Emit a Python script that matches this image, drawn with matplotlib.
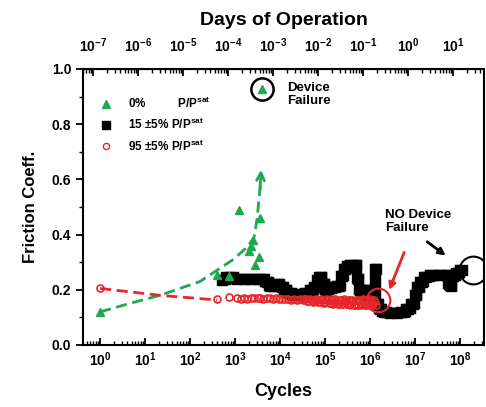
import numpy as np
import matplotlib
matplotlib.use('Agg')
from matplotlib import pyplot as plt
from matplotlib.lines import Line2D
from matplotlib.ticker import FixedLocator, LogLocator, NullFormatter

plt.rcParams['font.family'] = ['Liberation Sans', 'DejaVu Sans']
plt.rcParams['font.weight'] = 'bold'
plt.rcParams['mathtext.fontset'] = 'custom'
plt.rcParams['mathtext.rm'] = 'Liberation Sans:bold'
plt.rcParams['mathtext.bf'] = 'Liberation Sans:bold'
plt.rcParams['mathtext.default'] = 'bf'

GREEN = '#1fa84f'
RED = '#e8262a'

# 0% P/Psat (green triangles), x as log10(cycles)
dry_logx = [0.0, 2.6, 2.87, 3.09, 3.30, 3.35, 3.40, 3.44, 3.53, 3.56]
dry_y = [0.12, 0.254, 0.25, 0.49, 0.34, 0.36, 0.38, 0.29, 0.32, 0.46]
# dashed guide for the 0% data
dry_fit_logx = [0.0, 0.6, 1.33, 2.22, 2.96, 3.27, 3.42, 3.49, 3.56]
dry_fit_y = [0.12, 0.148, 0.18, 0.23, 0.31, 0.355, 0.39, 0.46, 0.58]
fail_logx = [3.6]
fail_y = [0.927]

# 15 +-5% P/Psat (black squares)
mid_logx = [2.70, 2.88, 3.05, 3.20, 3.35, 3.50, 3.60, 3.70, 3.78, 3.85, 3.95, 4.05,
            4.12, 4.20, 4.30, 4.42, 4.52, 4.60, 4.70, 4.78, 4.84, 4.90, 4.97, 5.03,
            5.12, 5.22, 5.30, 5.38, 5.44, 5.52, 5.60, 5.68, 5.74, 5.78, 5.86, 5.93,
            6.00, 6.08, 6.12, 6.16, 6.22, 6.30, 6.45, 6.60, 6.75, 6.85, 6.95, 7.02,
            7.08, 7.15, 7.25, 7.40, 7.55, 7.70, 7.76, 7.80, 7.85, 7.95, 8.05]
mid_y = [0.235, 0.245, 0.24, 0.24, 0.24, 0.24, 0.238, 0.23, 0.215, 0.215, 0.222, 0.21,
         0.20, 0.19, 0.18, 0.18, 0.185, 0.19, 0.20, 0.21, 0.235, 0.245, 0.22, 0.20,
         0.205, 0.21, 0.215, 0.25, 0.275, 0.285, 0.29, 0.29, 0.24, 0.20, 0.18, 0.175,
         0.20, 0.20, 0.275, 0.15, 0.13, 0.12, 0.115, 0.115, 0.12, 0.13, 0.15, 0.18,
         0.21, 0.23, 0.245, 0.255, 0.255, 0.255, 0.22, 0.215, 0.25, 0.26, 0.27]

# 95 +-5% P/Psat (red open circles)
wet_logx = [0.0, 2.60, 2.87, 3.05, 3.12, 3.20, 3.27, 3.35, 3.42, 3.50, 3.56, 3.63,
            3.70, 3.77, 3.84, 3.90, 3.97, 4.04, 4.10, 4.17, 4.24, 4.30, 4.37, 4.44,
            4.50, 4.54, 4.57, 4.60, 4.63, 4.66, 4.70, 4.73, 4.76, 4.79, 4.82, 4.85,
            4.88, 4.91, 4.94, 4.97, 5.00, 5.03, 5.05, 5.08, 5.10, 5.13, 5.15, 5.18,
            5.20, 5.23, 5.25, 5.28, 5.30, 5.33, 5.35, 5.38, 5.40, 5.43, 5.45, 5.48,
            5.50, 5.52, 5.54, 5.56, 5.58, 5.60, 5.62, 5.64, 5.66, 5.68, 5.70, 5.72,
            5.74, 5.76, 5.78, 5.80, 5.82, 5.84, 5.86, 5.88, 5.90, 5.92, 5.94, 5.96,
            5.98, 6.00, 6.02, 6.04, 6.06, 6.08, 6.10, 6.13]
wet_y = [0.205, 0.165, 0.175, 0.172, 0.168, 0.170, 0.167, 0.171, 0.169, 0.172, 0.170, 0.168,
         0.171, 0.169, 0.167, 0.170, 0.166, 0.168, 0.165, 0.167, 0.164, 0.166, 0.163, 0.166,
         0.162, 0.167, 0.165, 0.159, 0.160, 0.166, 0.164, 0.156, 0.158, 0.165, 0.163, 0.154,
         0.157, 0.165, 0.162, 0.153, 0.155, 0.166, 0.163, 0.152, 0.153, 0.165, 0.162, 0.150,
         0.152, 0.166, 0.161, 0.149, 0.150, 0.164, 0.162, 0.148, 0.150, 0.165, 0.160, 0.147,
         0.148, 0.163, 0.163, 0.146, 0.147, 0.164, 0.160, 0.145, 0.146, 0.163, 0.162, 0.145,
         0.145, 0.164, 0.160, 0.146, 0.148, 0.166, 0.163, 0.145, 0.146, 0.164, 0.158, 0.144,
         0.150, 0.165, 0.160, 0.146, 0.148, 0.162, 0.155, 0.145]
wet_fit_logx = [0.0, 1.33, 2.6]
wet_fit_y = [0.205, 0.18, 0.163]

cycle_ticks = [1e0, 1e1, 1e2, 1e3, 1e4, 1e5, 1e6, 1e7, 1e8]
day_ticks = [1e-7, 1e-6, 1e-5, 1e-4, 1e-3, 1e-2, 1e-1, 1e0, 1e1]

DAYS_PER_CYCLE = 10 ** -6.845

def c2d(c):
    return c * DAYS_PER_CYCLE

def d2c(d):
    return d / DAYS_PER_CYCLE

tc = lambda v: 10 ** np.array(v)

fig = plt.figure(figsize=(4.86, 4.07), dpi=100)
ax = fig.add_axes([83 / 486, 62 / 407, 401 / 486, 276 / 407])

# fits
ax.plot(tc(dry_fit_logx), dry_fit_y, '--', color=GREEN, lw=2, dashes=(4, 2))
ax.annotate('', xy=(10 ** 3.58, 0.645), xytext=(10 ** 3.55, 0.55),
            arrowprops=dict(arrowstyle='->', color=GREEN, lw=2, mutation_scale=14))
ax.plot(tc(wet_fit_logx), wet_fit_y, '--', color=RED, lw=2, dashes=(4, 2))

# data
ax.plot(tc(mid_logx), mid_y, '-', color='black', lw=7.5, drawstyle='steps-mid',
        solid_capstyle='butt', solid_joinstyle='miter')
ax.plot(tc(mid_logx), mid_y, 's', color='black', ms=7)
ax.plot(tc(wet_logx), wet_y, 'o', mfc='none', mec=RED, ms=5, mew=1.2)
ax.plot(tc(dry_logx), dry_y, '^', color=GREEN, ms=6, ls='none')

# device failure marker
ax.plot(tc(fail_logx), fail_y, '^', color=GREEN, ms=6)
ax.plot(tc(fail_logx), fail_y, 'o', mfc='none', mec='black', ms=16, mew=1.8)
ax.text(10 ** 4.16, 0.906, 'Device\nFailure', fontsize=9.5, fontweight='bold',
        ha='left', va='center', linespacing=1.1)

# no failure circles and arrows
ax.plot([10 ** 8.29], [0.272], 'o', mfc='none', mec='black', ms=20, mew=1.5)
ax.plot([10 ** 6.18], [0.163], 'o', mfc='none', mec=RED, ms=17, mew=1.5)
ax.text(10 ** 6.33, 0.446, 'NO Device\nFailure', fontsize=9.5, fontweight='bold',
        ha='left', va='center', linespacing=1.1)
ax.annotate('', xy=(10 ** 6.4, 0.19), xytext=(10 ** 6.78, 0.345),
            arrowprops=dict(arrowstyle='-|>', color=RED, lw=2, mutation_scale=10))
ax.annotate('', xy=(10 ** 7.73, 0.318), xytext=(10 ** 7.22, 0.38),
            arrowprops=dict(arrowstyle='-|>', color='black', lw=2, mutation_scale=10))

# legend
handles = [Line2D([], [], marker='^', color=GREEN, ls='none', ms=6),
           Line2D([], [], marker='s', color='black', ls='none', ms=5.5),
           Line2D([], [], marker='o', mfc='none', mec=RED, ls='none', ms=4.5, mew=1)]
labels = ['0%          P/P$^{sat}$', '15 \u00b15% P/P$^{sat}$', '95 \u00b15% P/P$^{sat}$']
ax.legend(handles, labels, loc='upper left', bbox_to_anchor=(0.015, 0.94),
          frameon=False, handlelength=1.0, handletextpad=1.4, labelspacing=0.5,
          prop={'weight': 'bold', 'size': 8.5})

ax.set_xscale('log')
ax.set_xlim(10 ** -0.38, 10 ** 8.53)
ax.xaxis.set_major_locator(FixedLocator(cycle_ticks))
ax.xaxis.set_minor_locator(LogLocator(base=10, subs=np.arange(2, 10), numticks=30))
ax.xaxis.set_minor_formatter(NullFormatter())
ax.set_ylim(0, 1.0)
ax.set_yticks([0, 0.2, 0.4, 0.6, 0.8, 1.0])
ax.set_yticks([0.1, 0.3, 0.5, 0.7, 0.9], minor=True)
ax.tick_params(axis='x', which='major', direction='in', length=5, width=1.3, labelsize=10, pad=4)
ax.tick_params(axis='x', which='minor', direction='in', length=3, width=1)
ax.tick_params(axis='y', which='major', direction='out', length=5, width=1.3, labelsize=10)
ax.tick_params(axis='y', which='minor', direction='out', length=3, width=1)
for sp in ax.spines.values():
    sp.set_linewidth(1.5)

ax.set_xlabel('Cycles', fontsize=13, fontweight='bold', labelpad=10)
ax.set_ylabel('Friction Coeff.', fontsize=12, fontweight='bold', labelpad=10)

top = ax.secondary_xaxis('top', functions=(c2d, d2c))
top.xaxis.set_major_locator(FixedLocator(day_ticks))
top.xaxis.set_minor_locator(LogLocator(base=10, subs=np.arange(2, 10), numticks=30))
top.xaxis.set_minor_formatter(NullFormatter())
top.tick_params(axis='x', which='major', direction='in', length=5, width=1.3, labelsize=10, pad=10)
top.tick_params(axis='x', which='minor', direction='in', length=3, width=1)
top.set_xlabel('Days of Operation', fontsize=14, fontweight='bold', labelpad=8)

plt.savefig('out.png', dpi=100)
